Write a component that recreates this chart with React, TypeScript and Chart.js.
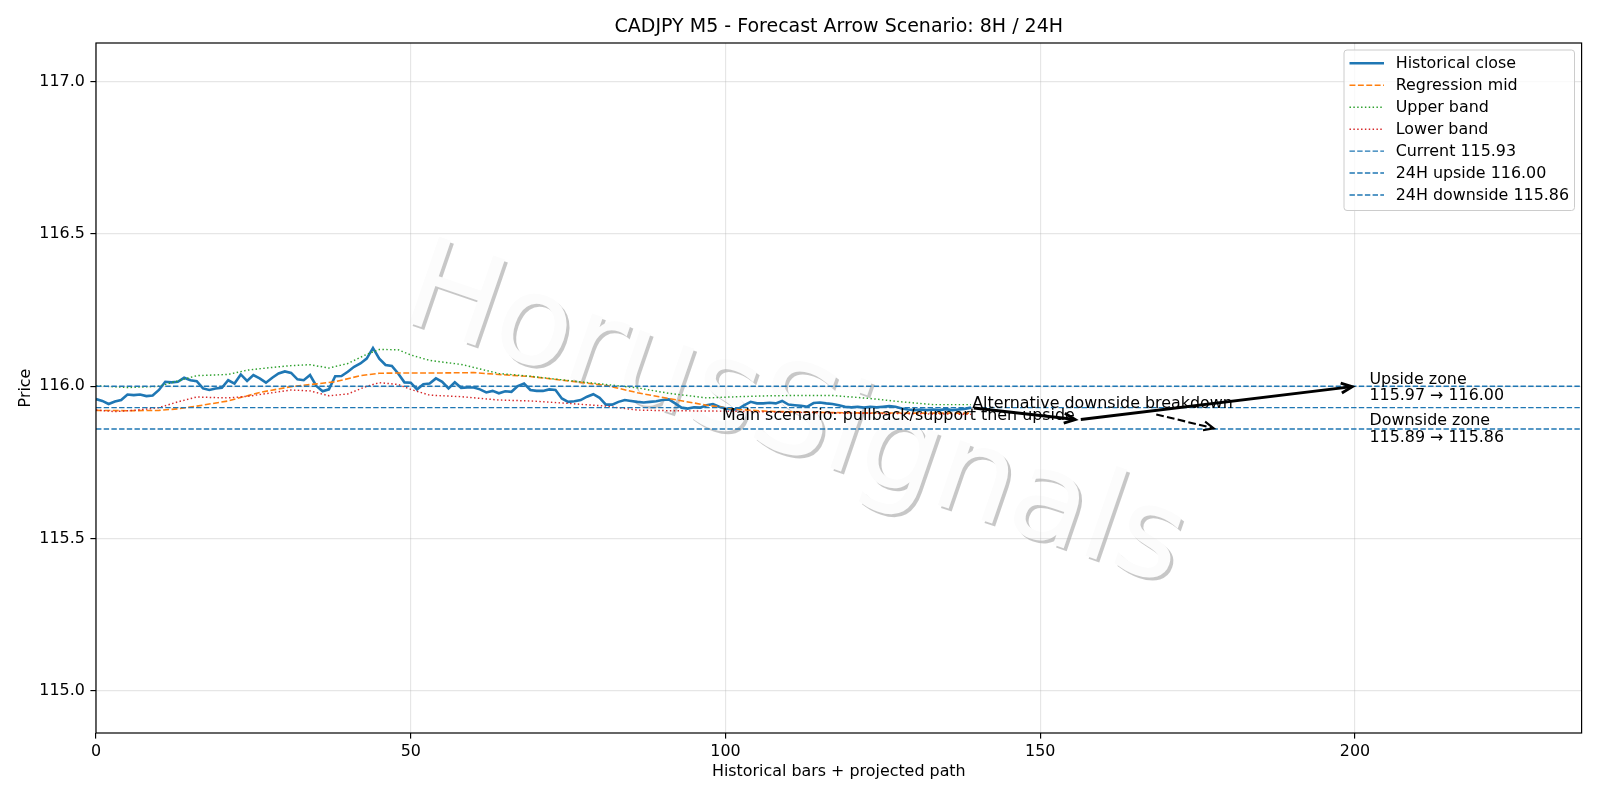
import React, { useEffect, useRef } from "react";
import { Chart, registerables } from "chart.js";

Chart.register(...registerables);

// ---------- text ----------
const chartTitle = "CADJPY M5 - Forecast Arrow Scenario: 8H / 24H";
const xAxisLabel = "Historical bars + projected path";
const yAxisLabel = "Price";
const watermarkText = "HorusSignals";
const legendLabels = [
  "Historical close",
  "Regression mid",
  "Upper band",
  "Lower band",
  "Current 115.93",
  "24H upside 116.00",
  "24H downside 115.86",
];
const mainScenarioText = "Main scenario: pullback/support then upside";
const altScenarioText = "Alternative downside breakdown";
const upsideZoneLines = ["Upside zone", "115.97 \u2192 116.00"];
const downsideZoneLines = ["Downside zone", "115.89 \u2192 115.86"];

// ---------- axes ----------
const xTicks = [0, 50, 100, 150, 200];
const yTicks = [115.0, 115.5, 116.0, 116.5, 117.0];
const X_MIN = 0;
const X_MAX = 236;
const Y_MIN = 114.862;
const Y_MAX = 117.127;

// ---------- series ----------
const closeValues = [
  115.958, 115.952, 115.942, 115.95, 115.955, 115.973, 115.971, 115.973, 115.968, 115.97,
  115.988, 116.015, 116.013, 116.015, 116.028, 116.02, 116.017, 115.993, 115.988, 115.993,
  115.995, 116.02, 116.009, 116.039, 116.018, 116.037, 116.026, 116.012, 116.028, 116.042,
  116.049, 116.044, 116.023, 116.02, 116.037, 116.001, 115.984, 115.99, 116.033, 116.034,
  116.048, 116.064, 116.075, 116.091, 116.126, 116.091, 116.07, 116.067, 116.042, 116.013,
  116.012, 115.99, 116.007, 116.009, 116.026, 116.015, 115.993, 116.013, 115.995, 115.996,
  115.996, 115.99, 115.98, 115.985, 115.977, 115.984, 115.982, 116.001, 116.009, 115.988,
  115.985, 115.985, 115.99, 115.988, 115.96, 115.949, 115.951, 115.955, 115.966, 115.974,
  115.962, 115.94, 115.94, 115.949, 115.955, 115.952, 115.949, 115.947, 115.949, 115.951,
  115.955, 115.957, 115.944, 115.93, 115.927, 115.931, 115.93, 115.938, 115.942, 115.933,
  115.927, 115.924, 115.925, 115.938, 115.949, 115.944, 115.944, 115.946, 115.944, 115.952,
  115.94, 115.938, 115.936, 115.933, 115.945, 115.947, 115.944, 115.942, 115.938, 115.933,
  115.931, 115.933, 115.93, 115.933, 115.931, 115.933, 115.935, 115.933, 115.927, 115.924,
  115.922, 115.924, 115.922, 115.924, 115.922, 115.925, 115.922, 115.924, 115.926, 115.93,
];

const midX = [0, 5, 10, 13, 16, 21, 26, 31, 35, 38, 42, 45, 50, 55, 60, 64, 69, 75, 81, 86, 91, 97, 102, 107, 113, 120, 130, 139];
const midY = [115.921, 115.92, 115.921, 115.926, 115.935, 115.952, 115.98, 115.999, 116.008, 116.015, 116.035, 116.043, 116.044, 116.044, 116.045, 116.039, 116.032, 116.018, 116.003, 115.979, 115.96, 115.938, 115.924, 115.918, 115.915, 115.913, 115.912, 115.912];

const upperX = [0, 5, 10, 13, 16, 21, 24, 27, 31, 34, 37, 40, 43, 45, 48, 50, 53, 58, 64, 69, 75, 81, 86, 91, 97, 102, 107, 112, 117, 123, 128, 133, 139];
const upperY = [116.002, 115.996, 116.0, 116.018, 116.035, 116.039, 116.053, 116.06, 116.068, 116.071, 116.06, 116.075, 116.105, 116.121, 116.12, 116.103, 116.085, 116.072, 116.042, 116.033, 116.019, 116.006, 115.995, 115.977, 115.962, 115.966, 115.969, 115.97, 115.97, 115.96, 115.949, 115.94, 115.94];

const lowerX = [0, 3, 6, 10, 13, 16, 19, 21, 24, 27, 31, 34, 37, 40, 43, 45, 48, 50, 53, 58, 64, 69, 75, 81, 86, 91, 97, 102, 110, 120, 130, 139];
const lowerY = [115.922, 115.917, 115.921, 115.93, 115.949, 115.965, 115.963, 115.962, 115.967, 115.976, 115.988, 115.985, 115.969, 115.975, 116.0, 116.012, 116.006, 115.99, 115.971, 115.966, 115.955, 115.952, 115.944, 115.935, 115.922, 115.92, 115.919, 115.918, 115.915, 115.912, 115.91, 115.908];

const currentLevel = 115.93;
const upsideLevel = 116.0;
const downsideLevel = 115.86;

// projected path arrows
const mainPathX = [139, 156, 200];
const mainPathY = [115.93, 115.89, 116.0];
const altPathX = [168, 178];
const altPathY = [115.91, 115.86];

// annotation anchors (data coords)
const mainTextAnchor = [155.5, 115.888];
const altTextAnchor = [139.2, 115.928];
const zoneTextX = 202.3;

// ---------- styles ----------
const BLUE = "#1f77b4";
const ORANGE = "#ff7f0e";
const GREEN = "#2ca02c";
const RED = "#d62728";
const FONT = '"DejaVu Sans", "Liberation Sans", sans-serif';
const TEXT_PX = 15.9;
const TITLE_PX = 19;
const TICK_PX = 15.9;

type Sty = { color: string; width: number; dash: number[] };
const styles: Sty[] = [
  { color: BLUE, width: 2.6, dash: [] },
  { color: ORANGE, width: 1.59, dash: [5.9, 2.5] },
  { color: GREEN, width: 1.45, dash: [1.45, 2.4] },
  { color: RED, width: 1.45, dash: [1.45, 2.4] },
  { color: BLUE, width: 1.45, dash: [5.4, 2.3] },
  { color: BLUE, width: 1.45, dash: [5.4, 2.3] },
  { color: BLUE, width: 1.45, dash: [5.4, 2.3] },
];

function drawArrow(
  ctx: CanvasRenderingContext2D,
  x1: number, y1: number, x2: number, y2: number,
  lw: number, dash: number[], hl: number, hw: number
) {
  const dx = x2 - x1, dy = y2 - y1;
  const len = Math.hypot(dx, dy);
  const ux = dx / len, uy = dy / len;
  const shrink = 2.8;
  const sx = x1 + ux * shrink, sy = y1 + uy * shrink;
  const ex = x2 - ux * shrink, ey = y2 - uy * shrink;
  ctx.save();
  ctx.strokeStyle = "#000";
  ctx.fillStyle = "#000";
  ctx.lineWidth = lw;
  ctx.lineCap = "butt";
  ctx.setLineDash(dash);
  ctx.beginPath();
  ctx.moveTo(sx, sy);
  ctx.lineTo(ex - ux * 2, ey - uy * 2);
  ctx.stroke();
  ctx.setLineDash([]);
  ctx.lineJoin = "miter";
  ctx.beginPath();
  ctx.moveTo(ex - ux * hl - uy * hw, ey - uy * hl + ux * hw);
  ctx.lineTo(ex, ey);
  ctx.lineTo(ex - ux * hl + uy * hw, ey - uy * hl - ux * hw);
  ctx.stroke();
  ctx.restore();
}

const overlayPlugin = {
  id: "overlay",
  beforeDraw(chart: any) {
    const ctx: CanvasRenderingContext2D = chart.ctx;
    ctx.save();
    ctx.fillStyle = "#fff";
    ctx.fillRect(0, 0, chart.width, chart.height);
    ctx.restore();
    // watermark with shadow
    const cx = 794, cy = 421, ang = (19 * Math.PI) / 180;
    ctx.save();
    ctx.font = `125px ${FONT}`;
    ctx.textAlign = "center";
    ctx.textBaseline = "middle";
    ctx.save();
    ctx.translate(cx + 3, cy + 3);
    ctx.rotate(ang);
    ctx.fillStyle = "rgba(0,0,0,0.22)";
    ctx.fillText(watermarkText, 0, 0);
    ctx.restore();
    ctx.save();
    ctx.translate(cx, cy);
    ctx.rotate(ang);
    ctx.fillStyle = "rgb(252,252,252)";
    ctx.fillText(watermarkText, 0, 0);
    ctx.restore();
    ctx.restore();
  },
  afterDatasetsDraw(chart: any) {
    const ctx: CanvasRenderingContext2D = chart.ctx;
    const xs = chart.scales.x, ys = chart.scales.y;
    const px = (v: number) => xs.getPixelForValue(v);
    const py = (v: number) => ys.getPixelForValue(v);
    const area = chart.chartArea;

    // arrows
    for (let i = 0; i < mainPathX.length - 1; i++) {
      drawArrow(ctx, px(mainPathX[i]), py(mainPathY[i]), px(mainPathX[i + 1]), py(mainPathY[i + 1]), 2.9, [], 11, 5);
    }
    drawArrow(ctx, px(altPathX[0]), py(altPathY[0]), px(altPathX[1]), py(altPathY[1]), 2.1, [7.7, 3.3], 10, 4.5);

    // annotation texts
    ctx.save();
    ctx.fillStyle = "#000";
    ctx.font = `${TEXT_PX}px ${FONT}`;
    ctx.textBaseline = "alphabetic";
    ctx.textAlign = "right";
    ctx.fillText(mainScenarioText, px(mainTextAnchor[0]), py(mainTextAnchor[1]));
    ctx.textAlign = "left";
    ctx.fillText(altScenarioText, px(altTextAnchor[0]), py(altTextAnchor[1]));
    const uy0 = py(upsideLevel);
    ctx.fillText(upsideZoneLines[0], px(zoneTextX), uy0 - 2.7);
    ctx.fillText(upsideZoneLines[1], px(zoneTextX), uy0 + 14);
    const dy0 = py(downsideLevel);
    ctx.fillText(downsideZoneLines[0], px(zoneTextX), dy0 - 4);
    ctx.fillText(downsideZoneLines[1], px(zoneTextX), dy0 + 13);
    ctx.restore();

    // spines
    ctx.save();
    ctx.strokeStyle = "#000";
    ctx.lineWidth = 1.2;
    ctx.strokeRect(area.left, area.top, area.right - area.left, area.bottom - area.top);
    ctx.restore();

    // legend
    ctx.save();
    const bx = 1344, by = 50, bw = 230.5, bh = 160.5, r = 3;
    ctx.beginPath();
    ctx.moveTo(bx + r, by);
    ctx.lineTo(bx + bw - r, by);
    ctx.quadraticCurveTo(bx + bw, by, bx + bw, by + r);
    ctx.lineTo(bx + bw, by + bh - r);
    ctx.quadraticCurveTo(bx + bw, by + bh, bx + bw - r, by + bh);
    ctx.lineTo(bx + r, by + bh);
    ctx.quadraticCurveTo(bx, by + bh, bx, by + bh - r);
    ctx.lineTo(bx, by + r);
    ctx.quadraticCurveTo(bx, by, bx + r, by);
    ctx.closePath();
    ctx.fillStyle = "rgba(255,255,255,0.8)";
    ctx.fill();
    ctx.strokeStyle = "#cccccc";
    ctx.lineWidth = 1;
    ctx.stroke();
    ctx.font = `${TEXT_PX}px ${FONT}`;
    ctx.textBaseline = "middle";
    ctx.textAlign = "left";
    legendLabels.forEach((label, i) => {
      const yy = 63.3 + i * 21.95;
      const s = styles[i];
      ctx.strokeStyle = s.color;
      ctx.lineWidth = s.width;
      ctx.setLineDash(s.dash);
      ctx.beginPath();
      ctx.moveTo(1349.5, yy);
      ctx.lineTo(1384, yy);
      ctx.stroke();
      ctx.setLineDash([]);
      ctx.fillStyle = "#000";
      ctx.fillText(label, 1395.7, yy + 0.5);
    });
    ctx.restore();

    // title and axis labels
    ctx.save();
    ctx.fillStyle = "#000";
    ctx.textAlign = "center";
    ctx.font = `${TITLE_PX}px ${FONT}`;
    ctx.textBaseline = "alphabetic";
    const midXpx = (area.left + area.right) / 2;
    ctx.fillText(chartTitle, midXpx, 32);
    ctx.font = `${TEXT_PX}px ${FONT}`;
    ctx.textBaseline = "middle";
    ctx.fillText(xAxisLabel, midXpx, 772);
    ctx.translate(25.5, (area.top + area.bottom) / 2);
    ctx.rotate(-Math.PI / 2);
    ctx.fillText(yAxisLabel, 0, 0);
    ctx.restore();
  },
};

function toPoints(xs: number[], ys: number[]) {
  return xs.map((x, i) => ({ x, y: ys[i] }));
}

export default function App() {
  const ref = useRef<HTMLCanvasElement | null>(null);
  useEffect(() => {
    document.body.style.margin = "0";
    const canvas = ref.current;
    if (!canvas) return;
    const seriesData = [
      closeValues.map((y, i) => ({ x: i, y })),
      toPoints(midX, midY),
      toPoints(upperX, upperY),
      toPoints(lowerX, lowerY),
      toPoints([X_MIN, X_MAX], [currentLevel, currentLevel]),
      toPoints([X_MIN, X_MAX], [upsideLevel, upsideLevel]),
      toPoints([X_MIN, X_MAX], [downsideLevel, downsideLevel]),
    ];
    const datasets = seriesData.map((data, i) => ({
      label: legendLabels[i],
      data,
      borderColor: styles[i].color,
      backgroundColor: styles[i].color,
      borderWidth: styles[i].width,
      borderDash: styles[i].dash,
      pointRadius: 0,
      fill: false,
      tension: 0,
      order: 10 - i,
    }));
    const gridCommon = {
      color: "rgba(176,176,176,0.32)",
      lineWidth: 1.15,
      tickColor: "#000",
      tickLength: 5.6,
      tickWidth: 1.2,
      drawTicks: true,
    };
    const tickFont = { family: FONT, size: TICK_PX };
    const chart = new Chart(canvas, {
      type: "line",
      data: { datasets },
      plugins: [overlayPlugin],
      options: {
        responsive: false,
        animation: false,
        devicePixelRatio: 1,
        layout: { padding: { top: 43, right: 18.4, left: 0, bottom: 0 } },
        plugins: {
          legend: { display: false },
          title: { display: false },
          tooltip: { enabled: false },
        },
        scales: {
          x: {
            type: "linear",
            min: X_MIN,
            max: X_MAX,
            afterFit: (s: any) => {
              s.height = 67;
            },
            afterBuildTicks: (s: any) => {
              s.ticks = xTicks.map((v) => ({ value: v }));
            },
            grid: gridCommon,
            border: { display: false },
            ticks: {
              color: "#000",
              font: tickFont,
              padding: 4,
              maxRotation: 0,
              autoSkip: false,
              callback: (v: any) => String(v),
            },
          },
          y: {
            type: "linear",
            min: Y_MIN,
            max: Y_MAX,
            afterFit: (s: any) => {
              s.width = 96;
            },
            afterBuildTicks: (s: any) => {
              s.ticks = yTicks.map((v) => ({ value: v }));
            },
            grid: gridCommon,
            border: { display: false },
            ticks: {
              color: "#000",
              font: tickFont,
              padding: 5.6,
              autoSkip: false,
              callback: (v: any) => Number(v).toFixed(1),
            },
          },
        },
      } as any,
    });
    return () => chart.destroy();
  }, []);
  return (
    <div style={{ position: "absolute", left: 0, top: 0, width: 1600, height: 800 }}>
      <canvas ref={ref} width={1600} height={800} style={{ width: 1600, height: 800, display: "block" }} />
    </div>
  );
}
